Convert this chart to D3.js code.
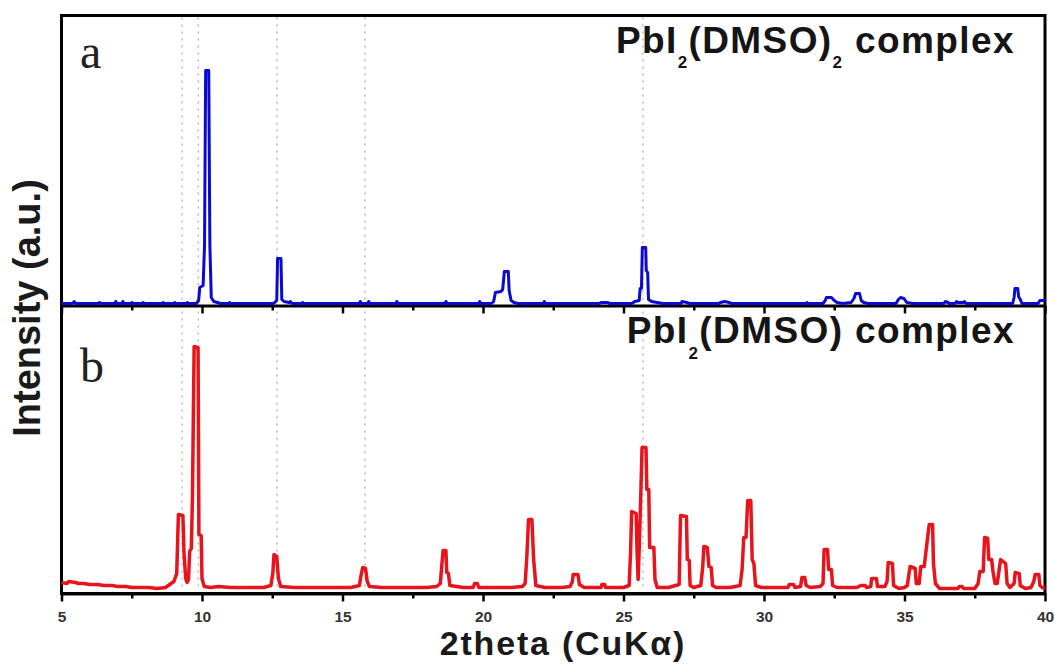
<!DOCTYPE html>
<html>
<head>
<meta charset="utf-8">
<script src="https://cdn.jsdelivr.net/npm/d3@7"></script>
<style>
  body { margin: 0; background: #fff; }
  svg { display: block; }
</style>
</head>
<body>
<svg id="chart" width="1055" height="665"></svg>
<script>
// XRD patterns: [2theta (deg), intensity (a.u.)]
const patternA = [
  [5.00,2],[5.40,2],[5.45,4],[5.50,2],[6.30,2],[6.35,3],[6.40,2],[6.90,2],[6.93,4],[6.97,2],[7.15,2],[7.18,4],[7.22,2],[7.48,2],[7.50,3],[7.55,2],[7.88,2],[7.90,3],[7.95,2],
  [8.60,2],[8.62,3],[8.66,2],[9.00,2],[9.03,3],[9.07,2],[9.45,2],[9.48,3],[9.52,2],[9.80,2],[9.88,5],[9.92,18],[10.04,20],[10.09,60],[10.13,235],[10.24,235],[10.28,60],[10.33,8],[10.42,4],[10.55,3],[10.65,2],
  [10.95,2],[10.98,3],[11.02,2],[12.55,2],[12.66,5],[12.69,47],[12.81,47],[12.84,6],[12.92,4],[13.10,3],[13.15,4],[13.20,2],[13.55,2],[13.58,3],[13.62,2],
  [15.60,2],[15.63,4],[15.67,2],[15.90,2],[15.93,4],[15.97,2],[16.90,2],[16.93,4],[16.97,2],[18.65,2],[18.68,4],[18.72,2],[19.85,2],[19.88,4],[19.92,2],
  [20.30,2],[20.38,4],[20.44,13],[20.64,14],[20.70,16],[20.76,34],[20.90,34],[20.93,15],[21.00,5],[21.10,3],[21.25,2],
  [22.15,2],[22.18,4],[22.22,2],[24.15,2],[24.20,3],[24.45,3],[24.50,2],[25.30,2],[25.40,4],[25.56,5],[25.59,17],[25.64,17],[25.67,58],[25.79,58],[25.81,35],[25.86,33],[25.89,6],[26.00,4],[26.20,3],[26.40,2],
  [27.05,2],[27.08,4],[27.25,3],[27.35,2],[28.40,2],[28.45,3],[28.60,4],[28.75,3],[28.85,2],[31.50,2],[31.53,3],[31.57,2],
  [32.10,2],[32.18,5],[32.22,8],[32.40,8],[32.50,5],[32.60,3],[32.80,2],[33.10,3],[33.20,7],[33.26,12],[33.40,12],[33.46,5],[33.55,3],[33.70,2],[34.70,2],[34.78,6],[34.86,8],[34.98,7],[35.08,3],[35.30,2],
  [36.40,2],[36.45,4],[36.55,3],[36.60,2],[36.80,2],[36.85,4],[36.90,3],[37.10,3],[37.13,4],[37.20,2],[38.85,2],[38.90,8],[38.93,17],[39.03,17],[39.06,9],[39.12,6],[39.18,2],[39.75,2],[39.82,5],[40.00,5]
];

const patternB = [
  [5.00,11],[5.20,10],[5.25,12],[5.50,11],[5.60,10],[5.80,10],[6.00,9],[6.30,9],[6.50,8],[6.80,8],[7.00,7],[7.30,7],[7.50,6],[7.80,6],[8.10,6],[8.40,5],[8.70,6],[8.85,9],[9.00,12],[9.10,20],
  [9.16,79],[9.32,78],[9.36,40],[9.42,15],[9.47,11],[9.52,14],[9.56,42],[9.62,45],[9.66,96],[9.72,247],[9.86,246],[9.89,59],[9.97,58],[10.00,15],[10.08,7],[10.30,6],[10.60,7],[11.00,6],[11.40,6],[11.80,6],[12.20,6],
  [12.45,8],[12.52,20],[12.56,39],[12.66,37],[12.72,15],[12.80,7],
  [13.30,6],[13.80,6],[14.30,6],[14.80,6],[15.30,6],[15.60,8],[15.66,18],[15.72,26],[15.82,25],[15.88,12],[15.96,7],[16.40,6],[17.00,6],[17.50,6],[18.00,6],[18.35,7],
  [18.48,10],[18.54,30],[18.58,43],[18.68,43],[18.71,21],[18.77,20],[18.82,8],[19.30,6],[19.65,6],[19.70,10],[19.80,10],[19.85,6],[20.40,6],[21.00,6],[21.40,7],
  [21.50,10],[21.56,37],[21.62,74],[21.74,74],[21.80,35],[21.88,8],[22.20,6],
  [22.80,6],[23.10,7],[23.18,12],[23.21,19],[23.38,19],[23.43,9],[23.60,6],[24.20,6],[24.23,9],[24.33,9],[24.36,6],[25.00,6],
  [25.20,8],[25.25,40],[25.29,82],[25.45,80],[25.48,45],[25.52,14],[25.56,46],[25.62,104],[25.66,146],[25.80,146],[25.83,104],[25.90,104],[25.93,46],[26.08,46],[26.12,14],[26.20,6],
  [26.60,6],[26.98,9],[27.03,78],[27.24,77],[27.27,34],[27.34,33],[27.37,8],[27.50,6],[27.75,8],[27.82,27],[27.86,47],[27.98,46],[28.04,27],[28.12,26],[28.17,8],[28.30,6],
  [28.80,6],[29.15,8],[29.22,24],[29.28,56],[29.36,56],[29.42,93],[29.53,93],[29.58,34],[29.64,30],[29.70,8],[29.90,6],[30.40,6],
  [30.85,6],[30.90,9],[31.05,9],[31.10,6],[31.30,7],[31.35,16],[31.45,16],[31.50,8],[31.65,6],
  [32.00,7],[32.10,10],[32.14,44],[32.26,44],[32.30,24],[32.40,24],[32.44,8],[32.60,6],[33.30,6],[33.45,8],[33.60,8],[33.65,6],
  [33.80,7],[33.83,15],[34.00,15],[34.04,7],[34.30,7],[34.38,12],[34.42,31],[34.57,30],[34.61,8],
  [34.80,5],[35.00,6],[35.10,8],[35.16,20],[35.20,27],[35.38,25],[35.42,10],[35.52,10],[35.58,27],[35.70,27],[35.84,60],[35.88,69],[36.00,69],[36.03,30],[36.10,10],[36.25,5],
  [36.90,5],[36.95,7],[37.05,7],[37.10,5],[37.50,5],
  [37.62,10],[37.68,22],[37.80,22],[37.85,56],[37.96,55],[38.00,34],[38.10,34],[38.15,22],[38.22,10],[38.30,10],[38.42,34],[38.60,30],[38.65,10],[38.75,6],
  [38.90,10],[38.94,21],[39.08,20],[39.12,8],[39.30,5],[39.50,6],[39.60,12],[39.65,19],[39.78,19],[39.82,8],[39.90,6],[40.00,5]
];

// dotted reference lines through both panels
const guideAngles = [9.29, 9.87, 12.67, 15.8, 25.69];

const majorTicks = [5, 10, 15, 20, 25, 30, 35, 40];
const minorTicks = [7.5, 12.5, 17.5, 22.5, 27.5, 32.5, 37.5];

const svg = d3.select("#chart");

const plotLeft = 61.5, plotRight = 1045, plotTop = 15.5, plotMid = 305.5, plotBottom = 593.5;

const x = d3.scaleLinear().domain([5, 40]).range([plotLeft, plotRight]);
const yA = d3.scaleLinear().domain([0, 290]).range([plotMid, plotTop]);
const yB = d3.scaleLinear().domain([0, 288]).range([plotBottom, plotMid]);

// guide lines
svg.append("g")
  .selectAll("line")
  .data(guideAngles)
  .join("line")
  .attr("x1", d => x(d)).attr("x2", d => x(d))
  .attr("y1", plotTop + 2).attr("y2", plotBottom - 2)
  .attr("stroke", "#b4b4b4")
  .attr("stroke-width", 1.4)
  .attr("stroke-dasharray", "2,5");

// axes (outward ticks at the bottom of each panel)
function drawAxis(yPos, withLabels) {
  const gMaj = svg.append("g").attr("transform", `translate(0,${yPos})`)
    .call(d3.axisBottom(x).tickValues(majorTicks).tickSize(8).tickSizeOuter(0)
      .tickFormat(withLabels ? d3.format("d") : () => ""));
  gMaj.select(".domain").attr("stroke", "#000").attr("stroke-width", 3);
  gMaj.selectAll(".tick line").attr("stroke", "#000").attr("stroke-width", 2.5);
  gMaj.selectAll(".tick text")
    .attr("dy", "1.1em")
    .attr("font-family", "'Liberation Sans', Arial, sans-serif")
    .attr("font-weight", "bold")
    .attr("font-size", 15.5)
    .attr("fill", "#333");
  const gMin = svg.append("g").attr("transform", `translate(0,${yPos})`)
    .call(d3.axisBottom(x).tickValues(minorTicks).tickSize(5).tickSizeOuter(0).tickFormat(() => ""));
  gMin.select(".domain").remove();
  gMin.selectAll(".tick line").attr("stroke", "#000").attr("stroke-width", 2.5);
}
drawAxis(plotMid, false);
drawAxis(plotBottom, true);

// frame
svg.append("rect")
  .attr("x", plotLeft).attr("y", plotTop)
  .attr("width", plotRight - plotLeft).attr("height", plotBottom - plotTop)
  .attr("fill", "none").attr("stroke", "#000").attr("stroke-width", 3);

// spectra
const lineA = d3.line().x(d => x(d[0])).y(d => yA(d[1]));
const lineB = d3.line().x(d => x(d[0])).y(d => yB(d[1]));

svg.append("path").datum(patternA)
  .attr("d", lineA)
  .attr("fill", "none").attr("stroke", "#0a0ad2")
  .attr("stroke-width", 3).attr("stroke-linejoin", "round");

svg.append("path").datum(patternB)
  .attr("d", lineB)
  .attr("fill", "none").attr("stroke", "#e8141b")
  .attr("stroke-width", 3.5).attr("stroke-linejoin", "round");

// panel letters
const serif = "'Liberation Serif', 'Times New Roman', serif";
svg.append("text").attr("x", 80).attr("y", 68)
  .attr("font-family", serif).attr("font-size", 48).attr("fill", "#222").text("a");
svg.append("text").attr("x", 80).attr("y", 382)
  .attr("font-family", serif).attr("font-size", 48).attr("fill", "#222").text("b");

// sample labels with subscripts
const sans = "'Liberation Sans', Arial, sans-serif";
function formula(xPos, yPos, subDrop, parts) {
  const t = svg.append("text")
    .attr("x", xPos).attr("y", yPos)
    .attr("text-anchor", "end")
    .attr("font-family", sans).attr("font-weight", "bold")
    .attr("font-size", 37).attr("letter-spacing", 1.4).attr("fill", "#151515");
  parts.forEach(p => {
    const s = t.append("tspan").text(p.text);
    if (p.sub) s.attr("font-size", 17).attr("dy", subDrop);
    else if (p.after) s.attr("dy", -subDrop);
  });
}
formula(1015, 53, 15, [
  { text: "PbI" }, { text: "2", sub: true }, { text: "(DMSO)", after: true },
  { text: "2", sub: true }, { text: " complex", after: true }
]);
formula(1015, 343, 16, [
  { text: "PbI" }, { text: "2", sub: true }, { text: "(DMSO) complex", after: true }
]);

// axis titles
svg.append("text")
  .attr("transform", "translate(40,308) rotate(-90)")
  .attr("text-anchor", "middle")
  .attr("font-family", sans).attr("font-weight", "bold")
  .attr("font-size", 38).attr("fill", "#1a1a1a")
  .text("Intensity (a.u.)");

svg.append("text")
  .attr("x", 563).attr("y", 655)
  .attr("text-anchor", "middle")
  .attr("font-family", sans).attr("font-weight", "bold")
  .attr("font-size", 34).attr("letter-spacing", 1.8).attr("fill", "#1a1a1a")
  .text("2theta (CuKα)");
</script>
</body>
</html>
